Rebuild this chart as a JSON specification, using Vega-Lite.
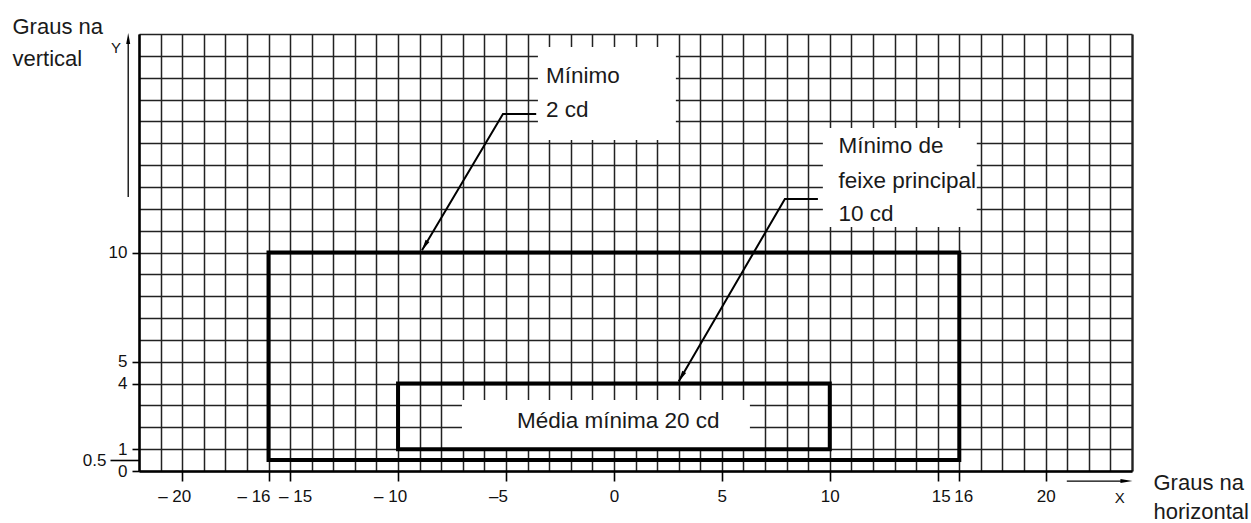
{
  "$schema": "https://vega.github.io/schema/vega-lite/v6.json",
  "width": 993,
  "height": 437,
  "autosize": "none",
  "padding": {"left": 139, "top": 34, "right": 119, "bottom": 52},
  "background": "white",
  "config": {"view": {"stroke": null}, "font": "Liberation Sans"},
  "datasets": {
    "boxes": [
      {"x": -3.52, "x2": 2.87, "y": 15.15, "y2": 19.4},
      {"x": 9.68, "x2": 16.81, "y": 11.17, "y2": 15.7},
      {"x": -7.04, "x2": 6.3, "y": 1.05, "y2": 3.25}
    ],
    "regions": [
      {"zone": "Mínimo 2 cd", "x": -16, "x2": 16, "y": 0.5, "y2": 10},
      {"zone": "Média mínima 20 cd", "x": -10, "x2": 10, "y": 1, "y2": 4}
    ],
    "leaders": [
      {"id": "a", "o": 0, "x": -3.6, "y": 16.34},
      {"id": "a", "o": 1, "x": -5.14, "y": 16.34},
      {"id": "a", "o": 2, "x": -8.89, "y": 10.1},
      {"id": "b", "o": 0, "x": 9.45, "y": 12.45},
      {"id": "b", "o": 1, "x": 7.92, "y": 12.45},
      {"id": "b", "o": 2, "x": 3.0, "y": 4.1}
    ],
    "tips": [
      {"id": "a", "x": -8.89, "y": 10.1},
      {"id": "b", "x": 3.0, "y": 4.1}
    ],
    "axisArrows": [
      {"id": "Y", "o": 0, "x": -22.5, "y": 12.54},
      {"id": "Y", "o": 1, "x": -22.5, "y": 19.7},
      {"id": "X", "o": 0, "x": 20.98, "y": -0.46},
      {"id": "X", "o": 1, "x": 23.7, "y": -0.46}
    ],
    "axisHeads": [
      {"id": "Y", "x": -22.5, "y": 20.05},
      {"id": "X", "x": 24.02, "y": -0.46}
    ],
    "texts": [
      {"t": "Mínimo", "x": -3.15, "y": 18.1},
      {"t": "2 cd", "x": -3.15, "y": 16.52},
      {"t": "Mínimo de", "x": 10.4, "y": 14.87},
      {"t": "feixe principal", "x": 10.4, "y": 13.27},
      {"t": "10 cd", "x": 10.4, "y": 11.78},
      {"t": "Média mínima 20 cd", "x": -4.49, "y": 2.27}
    ],
    "letters": [
      {"t": "Y", "x": -23.3, "y": 19.36},
      {"t": "X", "x": 23.2, "y": -1.24}
    ]
  },
  "encoding": {
    "x": {
      "field": "x",
      "type": "quantitative",
      "scale": {"domain": [-22, 24], "nice": false, "zero": false},
      "axis": {
        "title": ["Graus na", "horizontal"],
        "titleFont": "Liberation Sans",
        "titleFontSize": 22,
        "titleFontWeight": "normal",
        "titleColor": "#1a1a1a",
        "titleAngle": 0,
        "titleAlign": "left",
        "titleBaseline": "alphabetic",
        "titleX": 1014,
        "titleY": 18,
        "titleLineHeight": 29,
        "values": [-22, -21, -20, -19, -18, -17, -16, -15, -14, -13, -12, -11, -10, -9, -8, -7, -6, -5, -4, -3, -2, -1, 0, 1, 2, 3, 4, 5, 6, 7, 8, 9, 10, 11, 12, 13, 14, 15, 16, 17, 18, 19, 20, 21, 22, 23, 24],
        "grid": true,
        "gridColor": "#222",
        "gridWidth": {"condition": {"test": "datum.value == 24", "value": 2.4}, "value": 1.5},
        "domainColor": "#000",
        "domainWidth": 2.5,
        "tickColor": "#000",
        "tickWidth": 1.6,
        "tickSize": 10,
        "tickOpacity": {"condition": {"test": "indexof([-20,-16,-15,-10,-5,0,5,10,15,16,20], datum.value) >= 0", "value": 1}, "value": 0},
        "labelExpr": "indexof([-20,-16,-15,-10,-5,0,5,10,15,16,20], datum.value) >= 0 ? (datum.value < 0 ? (datum.value == -5 ? '–5' : '– ' + abs(datum.value)) : '' + datum.value) : ''",
        "labelOffset": {"condition": [
          {"test": "datum.value == -16", "value": -15},
          {"test": "datum.value == -15", "value": 5},
          {"test": "datum.value < 0", "value": -8},
          {"test": "datum.value == 15", "value": 3},
          {"test": "datum.value == 16", "value": 4}
        ], "value": 0},
        "labelFont": "Liberation Sans",
        "labelFontSize": 17,
        "labelColor": "#111",
        "labelPadding": 7,
        "labelOverlap": false,
        "labelFlush": false,
        "labelBound": false
      }
    },
    "y": {
      "field": "y",
      "type": "quantitative",
      "scale": {"domain": [0, 20], "nice": false, "zero": false},
      "axis": {
        "title": ["Graus na", "vertical"],
        "titleFont": "Liberation Sans",
        "titleFontSize": 22,
        "titleFontWeight": "normal",
        "titleColor": "#1a1a1a",
        "titleAngle": 0,
        "titleAlign": "left",
        "titleBaseline": "alphabetic",
        "titleX": -127,
        "titleY": -1,
        "titleLineHeight": 32,
        "values": [0, 0.5, 1, 2, 3, 4, 5, 6, 7, 8, 9, 10, 11, 12, 13, 14, 15, 16, 17, 18, 19, 20],
        "grid": true,
        "gridColor": "#222",
        "gridWidth": 1.5,
        "gridOpacity": {"condition": {"test": "datum.value == 0.5", "value": 0}, "value": 1},
        "domainColor": "#000",
        "domainWidth": 2.5,
        "tickColor": "#000",
        "tickWidth": 1.6,
        "tickSize": {"condition": {"test": "datum.value == 0.5", "value": 29}, "value": 7},
        "tickOpacity": {"condition": {"test": "indexof([0,0.5,1,4,5,10], datum.value) >= 0", "value": 1}, "value": 0},
        "labelExpr": "indexof([0,0.5,1,4,5,10], datum.value) >= 0 ? '' + datum.value : ''",
        "labelFont": "Liberation Sans",
        "labelFontSize": 17,
        "labelColor": "#111",
        "labelPadding": {"condition": {"test": "datum.value == 0.5", "value": 4}, "value": 5},
        "labelOverlap": false,
        "labelFlush": false,
        "labelBound": false
      }
    }
  },
  "layer": [
    {
      "data": {"name": "boxes"},
      "mark": {"type": "rect", "fill": "white", "stroke": null},
      "encoding": {"x2": {"field": "x2"}, "y2": {"field": "y2"}}
    },
    {
      "data": {"name": "regions"},
      "mark": {"type": "rect", "fill": null, "filled": false, "stroke": "#000", "strokeWidth": 4},
      "encoding": {"x2": {"field": "x2"}, "y2": {"field": "y2"}}
    },
    {
      "data": {"name": "leaders"},
      "mark": {"type": "line", "color": "#000", "strokeWidth": 2},
      "encoding": {"detail": {"field": "id"}, "order": {"field": "o", "type": "quantitative"}}
    },
    {
      "data": {"name": "tips"},
      "mark": {"type": "point", "shape": "M0,0L-0.45,2.2L0.45,2.2Z", "filled": true, "color": "#000", "opacity": 1, "size": 100, "angle": 210},
      "encoding": {}
    },
    {
      "data": {"name": "axisArrows"},
      "mark": {"type": "line", "color": "#000", "strokeWidth": 1.3},
      "encoding": {"detail": {"field": "id"}, "order": {"field": "o", "type": "quantitative"}}
    },
    {
      "data": {"name": "axisHeads"},
      "transform": [{"filter": "datum.id == 'Y'"}],
      "mark": {"type": "point", "shape": "M0,0L-0.4,2.2L0.4,2.2Z", "filled": true, "color": "#000", "opacity": 1, "size": 100, "angle": 0},
      "encoding": {}
    },
    {
      "data": {"name": "axisHeads"},
      "transform": [{"filter": "datum.id == 'X'"}],
      "mark": {"type": "point", "shape": "M0,0L-0.4,2.4L0.4,2.4Z", "filled": true, "color": "#000", "opacity": 1, "size": 100, "angle": 90},
      "encoding": {}
    },
    {
      "data": {"name": "texts"},
      "mark": {"type": "text", "align": "left", "baseline": "middle", "font": "Liberation Sans", "fontSize": 22.5, "color": "#1a1a1a"},
      "encoding": {"text": {"field": "t"}}
    },
    {
      "data": {"name": "letters"},
      "mark": {"type": "text", "align": "left", "baseline": "middle", "font": "Liberation Sans", "fontSize": 15, "color": "#111"},
      "encoding": {"text": {"field": "t"}}
    }
  ]
}
